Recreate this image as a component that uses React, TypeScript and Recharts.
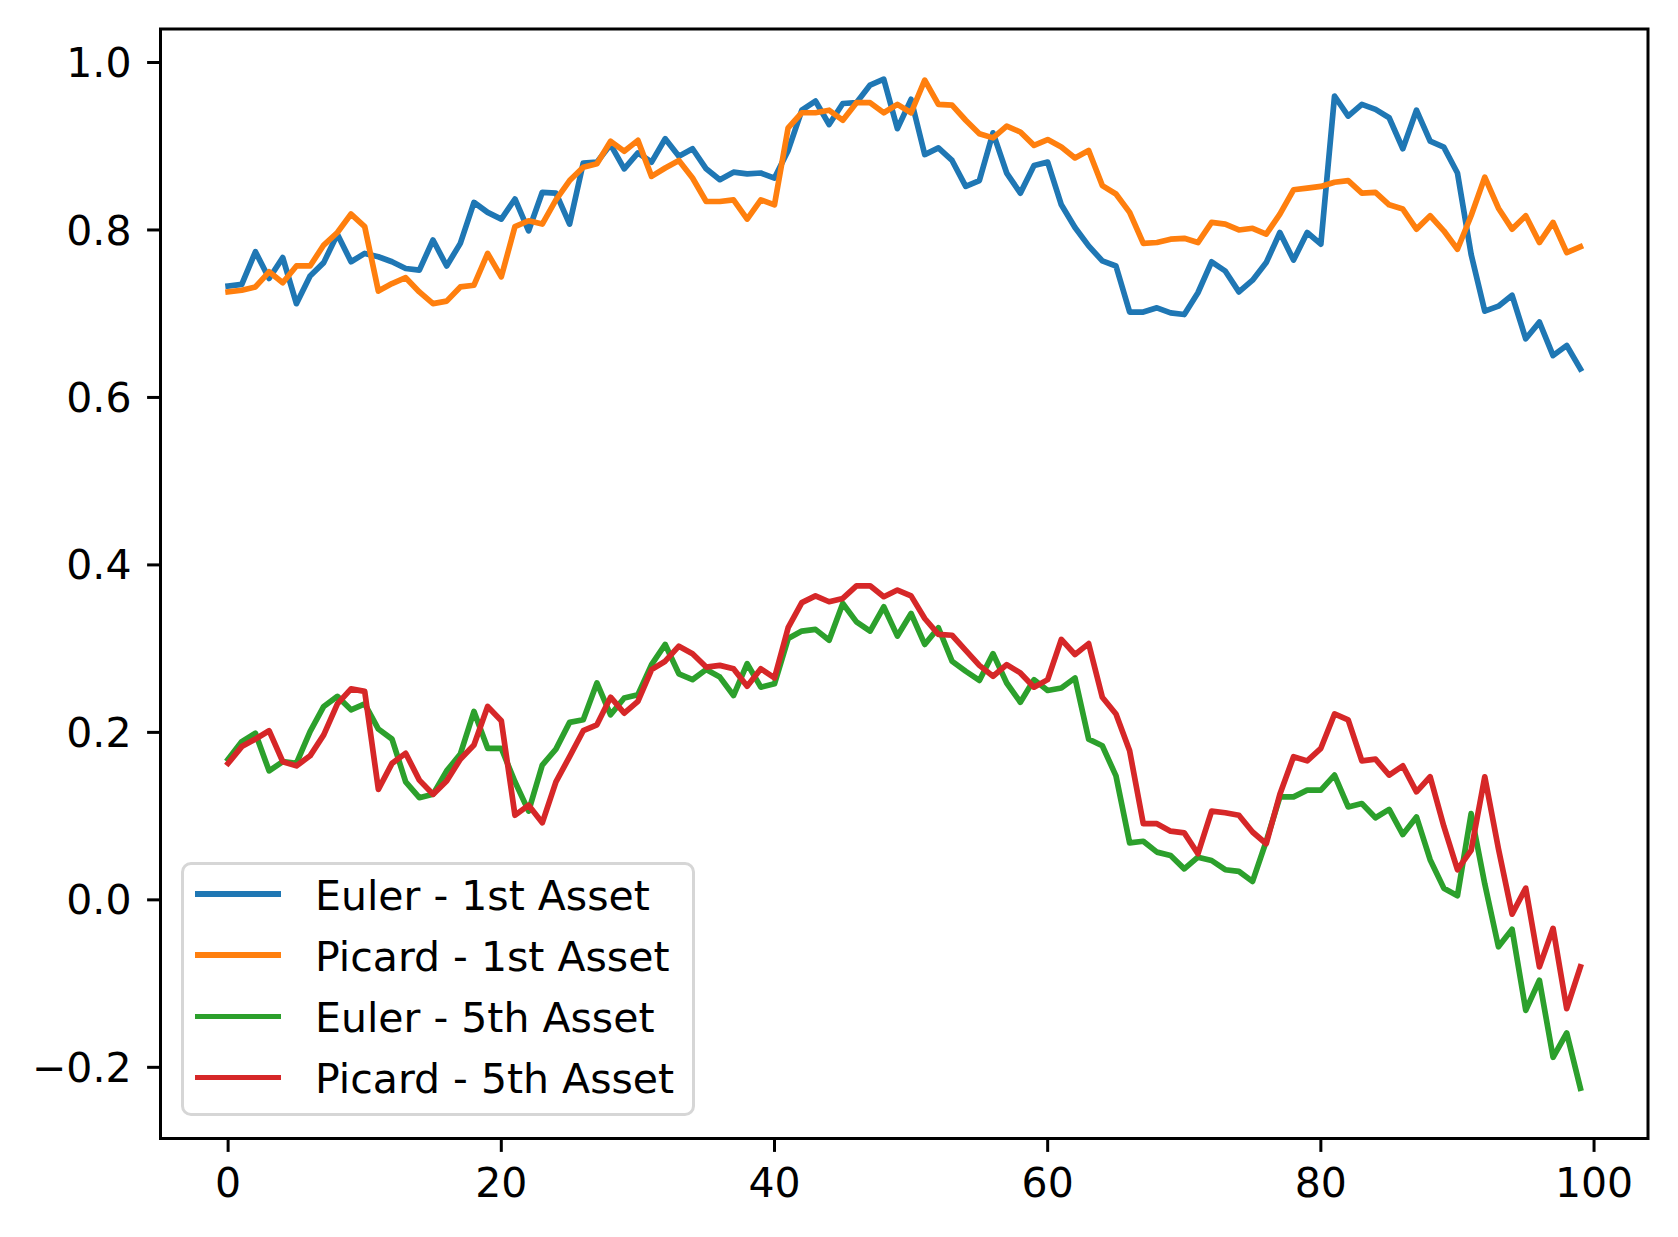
import { LineChart, Line, XAxis, YAxis, Legend, ReferenceArea } from 'recharts'

// values, one per time step 0..99
const eulerFirst = [
  0.733, 0.735, 0.774, 0.742, 0.767, 0.712, 0.745, 0.761, 0.795, 0.762,
  0.772, 0.768, 0.762, 0.754, 0.752, 0.788, 0.757, 0.784, 0.833, 0.821,
  0.813, 0.837, 0.799, 0.845, 0.844, 0.807, 0.880, 0.881, 0.902, 0.873,
  0.892, 0.881, 0.909, 0.888, 0.897, 0.873, 0.860, 0.869, 0.867, 0.868,
  0.862, 0.895, 0.943, 0.954, 0.926, 0.951, 0.952, 0.973, 0.980, 0.921,
  0.956, 0.890, 0.898, 0.883, 0.852, 0.859, 0.916, 0.868, 0.844, 0.877,
  0.881, 0.830, 0.803, 0.781, 0.763, 0.757, 0.702, 0.702, 0.707, 0.701,
  0.699, 0.725, 0.762, 0.751, 0.726, 0.740, 0.761, 0.797, 0.764, 0.797,
  0.783, 0.960, 0.936, 0.950, 0.944, 0.934, 0.897, 0.943, 0.906, 0.899,
  0.868, 0.771, 0.703, 0.709, 0.722, 0.670, 0.690, 0.650, 0.662, 0.634,
]

const picardFirst = [
  0.726, 0.728, 0.732, 0.750, 0.737, 0.757, 0.757, 0.782, 0.797, 0.819,
  0.804, 0.727, 0.736, 0.743, 0.726, 0.712, 0.715, 0.732, 0.734, 0.772,
  0.744, 0.804, 0.811, 0.807, 0.836, 0.859, 0.875, 0.879, 0.906, 0.894,
  0.907, 0.864, 0.874, 0.883, 0.862, 0.834, 0.834, 0.836, 0.813, 0.836,
  0.830, 0.922, 0.940, 0.940, 0.943, 0.931, 0.952, 0.952, 0.940, 0.950,
  0.940, 0.979, 0.950, 0.949, 0.931, 0.915, 0.910, 0.924, 0.917, 0.901,
  0.908, 0.899, 0.886, 0.895, 0.853, 0.843, 0.821, 0.784, 0.785, 0.789,
  0.790, 0.785, 0.809, 0.807, 0.800, 0.802, 0.795, 0.819, 0.848, 0.850,
  0.852, 0.857, 0.859, 0.844, 0.845, 0.830, 0.825, 0.801, 0.817, 0.799,
  0.777, 0.817, 0.863, 0.826, 0.801, 0.817, 0.785, 0.809, 0.773, 0.780,
]

const eulerFifth = [
  0.168, 0.189, 0.199, 0.154, 0.165, 0.163, 0.201, 0.231, 0.243, 0.227,
  0.234, 0.204, 0.192, 0.141, 0.122, 0.126, 0.154, 0.174, 0.225, 0.181,
  0.181, 0.141, 0.106, 0.161, 0.180, 0.212, 0.215, 0.259, 0.221, 0.241,
  0.245, 0.281, 0.305, 0.270, 0.263, 0.275, 0.266, 0.244, 0.282, 0.254,
  0.258, 0.312, 0.321, 0.323, 0.310, 0.354, 0.332, 0.321, 0.350, 0.315,
  0.342, 0.305, 0.325, 0.285, 0.273, 0.262, 0.294, 0.259, 0.236, 0.263,
  0.250, 0.253, 0.265, 0.192, 0.184, 0.148, 0.068, 0.070, 0.057, 0.053,
  0.037, 0.051, 0.047, 0.036, 0.034, 0.022, 0.070, 0.123, 0.123, 0.131,
  0.131, 0.149, 0.111, 0.115, 0.098, 0.108, 0.078, 0.099, 0.048, 0.014,
  0.005, 0.103, 0.019, -0.056, -0.035, -0.132, -0.096, -0.188, -0.159, -0.225,
]

const picardFifth = [
  0.163, 0.183, 0.192, 0.202, 0.165, 0.160, 0.172, 0.197, 0.234, 0.252,
  0.249, 0.132, 0.163, 0.175, 0.143, 0.126, 0.142, 0.168, 0.185, 0.231,
  0.214, 0.101, 0.113, 0.092, 0.141, 0.171, 0.202, 0.209, 0.242, 0.223,
  0.237, 0.275, 0.285, 0.303, 0.294, 0.278, 0.280, 0.276, 0.255, 0.276,
  0.265, 0.325, 0.355, 0.363, 0.356, 0.360, 0.375, 0.375, 0.362, 0.370,
  0.363, 0.336, 0.317, 0.316, 0.298, 0.280, 0.267, 0.281, 0.271, 0.254,
  0.263, 0.311, 0.293, 0.306, 0.242, 0.222, 0.178, 0.091, 0.091, 0.082,
  0.080, 0.055, 0.106, 0.104, 0.101, 0.081, 0.067, 0.126, 0.171, 0.166,
  0.181, 0.222, 0.215, 0.166, 0.168, 0.149, 0.160, 0.129, 0.147, 0.088,
  0.036, 0.059, 0.147, 0.061, -0.017, 0.014, -0.080, -0.034, -0.130, -0.080,
]

const xTicks = [0, 20, 40, 60, 80, 100]
const yTicks = [-0.2, 0, 0.2, 0.4, 0.6, 0.8, 1.0]

const series = [
  { key: 'eulerFirst', name: 'Euler - 1st Asset', color: '#1f77b4' },
  { key: 'picardFirst', name: 'Picard - 1st Asset', color: '#ff7f0e' },
  { key: 'eulerFifth', name: 'Euler - 5th Asset', color: '#2ca02c' },
  { key: 'picardFifth', name: 'Picard - 5th Asset', color: '#d62728' },
]

const rows = eulerFirst.map((v, i) => ({
  step: i,
  eulerFirst: v,
  picardFirst: picardFirst[i],
  eulerFifth: eulerFifth[i],
  picardFifth: picardFifth[i],
}))

const X_DOMAIN: [number, number] = [-4.95, 103.95]
const Y_DOMAIN: [number, number] = [-0.285, 1.04]

const FONT = 'DejaVu Sans, Verdana, sans-serif'
const FS = 41
const LW = 5.7
const AXIS_W = 3

const fmtY = (v: number) => (v < 0 ? '\u2212' + Math.abs(v).toFixed(1) : v.toFixed(1))

// keeps the plotting order (recharts sorts its payload by name)
function LegendBox() {
  return (
    <div
      style={{
        boxSizing: 'border-box',
        width: 514,
        height: 254,
        border: '3px solid #d6d6d6',
        borderRadius: 10,
        background: 'rgba(255,255,255,0.8)',
        position: 'relative',
        fontFamily: FONT,
      }}
    >
      {series.map((s, i) => (
        <div
          key={s.key}
          style={{
            position: 'absolute',
            left: 0,
            top: 29 + i * 61.2 - 30,
            height: 60,
            display: 'flex',
            alignItems: 'center',
          }}
        >
          <div style={{ marginLeft: 11, width: 86, height: LW, background: s.color }} />
          <span style={{ marginLeft: 34, fontSize: FS, lineHeight: 1, color: '#000', whiteSpace: 'nowrap', position: 'relative', top: 2 }}>
            {s.name}
          </span>
        </div>
      ))}
    </div>
  )
}

export default function App() {
  return (
    <div style={{ position: 'absolute', left: 0, top: 0, background: '#fff' }}>
      <LineChart
        width={1678}
        height={1237}
        data={rows}
        margin={{ top: 29, right: 30, bottom: 38.5, left: 60.5 }}
      >
        <XAxis
          dataKey="step"
          type="number"
          domain={X_DOMAIN}
          ticks={xTicks}
          allowDataOverflow
          height={60}
          axisLine={{ stroke: '#000', strokeWidth: AXIS_W }}
          tickLine={{ stroke: '#000', strokeWidth: AXIS_W }}
          tickSize={13.4}
          tickMargin={16}
          tick={{ fontFamily: FONT, fontSize: FS, fill: '#000' }}
        />
        <YAxis
          type="number"
          domain={Y_DOMAIN}
          ticks={yTicks}
          allowDataOverflow
          width={100}
          tickFormatter={fmtY}
          axisLine={{ stroke: '#000', strokeWidth: AXIS_W }}
          tickLine={{ stroke: '#000', strokeWidth: AXIS_W }}
          tickSize={13.4}
          tickMargin={15.6}
          tick={{ fontFamily: FONT, fontSize: FS, fill: '#000' }}
        />
        {series.map((s) => (
          <Line
            key={s.key}
            dataKey={s.key}
            name={s.name}
            stroke={s.color}
            strokeWidth={LW}
            strokeLinejoin="round"
            strokeLinecap="square"
            dot={false}
            activeDot={false}
            isAnimationActive={false}
          />
        ))}
        {/* axes frame (top and right spines) */}
        <ReferenceArea
          x1={X_DOMAIN[0]}
          x2={X_DOMAIN[1]}
          y1={Y_DOMAIN[0]}
          y2={Y_DOMAIN[1]}
          fill="none"
          fillOpacity={0}
          stroke="#000"
          strokeWidth={AXIS_W}
          ifOverflow="visible"
        />
        <Legend
          layout="horizontal"
          verticalAlign="middle"
          align="center"
          wrapperStyle={{ left: 181, top: 862, width: 514, height: 254 }}
          content={() => <LegendBox />}
        />
      </LineChart>
    </div>
  )
}
